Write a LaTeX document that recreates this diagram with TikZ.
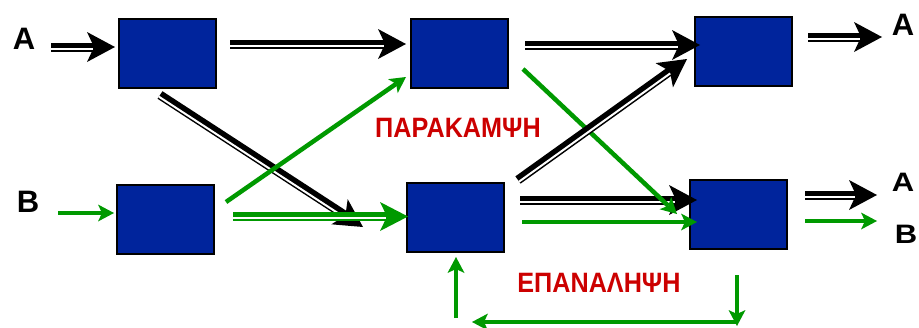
\documentclass[tikz,border=0pt]{standalone}
\usepackage{fontspec}
\setmainfont{Liberation Sans}
\usetikzlibrary{arrows.meta,calc}
\definecolor{boxblue}{RGB}{0,36,156}
\definecolor{grn}{RGB}{0,153,0}
\definecolor{redc}{RGB}{204,0,0}
\newcommand\blkarrow[3]{%
  \draw[black, line width=9pt, -{Stealth[length=28pt,width=30pt,inset=7pt,line width=0pt]}] #1 -- #2;
  \draw[white, line width=2pt, shorten >=22pt, transform canvas={shift={#3}}] #1 -- #2;}
\newcommand\grnarrow[3]{%
  \draw[grn, line width=8.5pt, -{Stealth[length=28pt,width=29pt,inset=7pt,line width=0pt]}] #1 -- #2;
  \draw[white, line width=1.6pt, shorten >=22pt, transform canvas={shift={#3}}] #1 -- #2;}
\begin{document}
\begin{tikzpicture}[x=1pt,y=-1pt,
  box/.style={draw=black, line width=2pt, fill=boxblue, minimum width=97pt, minimum height=69pt, inner sep=0pt},
  lbl/.style={font=\fontsize{31}{31}\selectfont\bfseries, inner sep=0pt},
  grk/.style={text=redc, font=\fontsize{28}{28}\selectfont\bfseries, inner sep=0pt},
  sgrn/.style={draw=grn, line width=4.5pt, -{Stealth[length=16pt,width=17pt,inset=4pt,line width=0pt]}}
]
\useasboundingbox (0,0) rectangle (919,327);
\fill[white] (0,0) rectangle (919,327);

% boxes
\node[box] (b1) at (167.5,53.5) {};
\node[box] (b2) at (459.5,53.5) {};
\node[box] (b3) at (743.5,51.5) {};
\node[box] (b4) at (165.5,219.5) {};
\node[box] (b5) at (455.5,217.5) {};
\node[box] (b6) at (738.5,214.5) {};

% labels
\node[lbl] (la1) at (24,39) {A};
\node[lbl] (la2) at (903,25) {A};
\node[lbl] (lb1) at (28,202) {B};
\node[lbl] (la3) at (903,182) {\scalebox{1}[0.86]{A}};
\node[lbl] (lb2) at (906,234) {\scalebox{1}[0.86]{B}};
\node[grk] (t1) at (458,128) {\scalebox{0.9}[1]{ΠΑΡΑΚΑΜΨΗ}};
\node[grk] (t2) at (599,283) {\scalebox{0.9}[1]{ΕΠΑΝΑΛΗΨΗ}};

% free ends
\coordinate (ain) at (51,47);
\coordinate (bin) at (58,213);
\coordinate (aout1) at (882,37);
\coordinate (aout2) at (877,195);
\coordinate (bout) at (877,221);
\coordinate (l1) at (737,326);
\coordinate (l2) at (737,322);
\coordinate (l3) at (472,322);
\coordinate (l4) at (456,318);

% black double arrows
\blkarrow{(ain)}{($(b1.west)+(-3,-6.5)$)}{(0,2)}
\blkarrow{($(b1.east)+(13,-9.5)$)}{($(b2.west)+(-4,-9.5)$)}{(0,2)}
\blkarrow{($(b2.east)+(16,-8.5)$)}{($(b3.west)+(6,-6.5)$)}{(0,2)}
\blkarrow{($(b3.east)+(15,-14.5)$)}{(aout1)}{(0,2)}
\blkarrow{($(b1.south)+(-7.5,6)$)}{($(b5.west)+(-43,9.5)$)}{(-1.1,1.7)}
\blkarrow{($(b5.east)+(15,-17.5)$)}{($(b6.west)+(8,-14.5)$)}{(0,2)}
\blkarrow{($(b6.east)+(17,-19.5)$)}{(aout2)}{(0,2)}

% green arrows
\draw[sgrn] (bin) -- ($(b4.west)+(-2,-6.5)$);
\grnarrow{($(b4.east)+(18,-3)$)}{($(b5.west)+(2,-1)$)}{(0,1.4)}
\draw[sgrn] ($(b4.east)+(11,-17.5)$) -- ($(b2.west)+(-4,23.5)$);
\draw[sgrn] ($(b2.east)+(14,15.5)$) -- ($(b6.west)+(-12,-0.5)$);
\draw[sgrn] ($(b5.east)+(17,4.5)$) -- ($(b6.west)+(8,7.5)$);
\draw[sgrn] ($(b6.east)+(17,6.5)$) -- (bout);

% black diagonal over green
\blkarrow{($(b5.east)+(13,-37.5)$)}{($(b3.west)+(-7,7.5)$)}{(1.1,1.6)}

% loop
\draw[sgrn] ($(b6.south)+(-1.5,25)$) -- (l1);
\draw[sgrn] (l2) -- (l3);
\draw[sgrn] (l4) -- ($(b5.south)+(0.5,4)$);
\end{tikzpicture}
\end{document}
